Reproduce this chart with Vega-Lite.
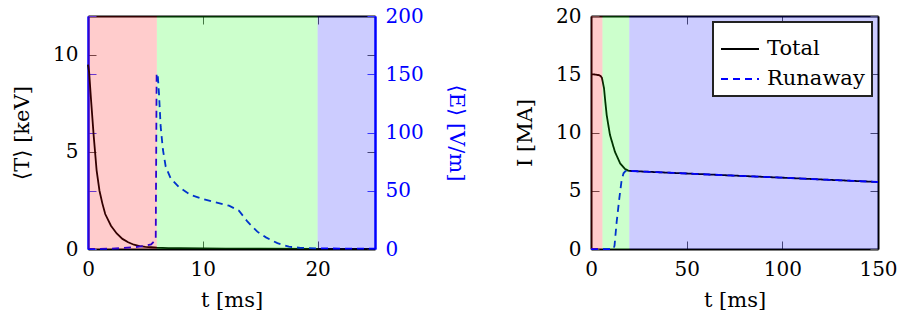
{
  "$schema": "https://vega.github.io/schema/vega-lite/v6.json",
  "padding": {"left": 11, "top": 6, "right": 0, "bottom": 0},
  "autosize": {"type": "pad"},
  "config": {
    "font": "DejaVu Serif",
    "view": {"stroke": null},
    "axis": {
      "labelFont": "DejaVu Serif", "titleFont": "DejaVu Serif",
      "labelFontSize": 20, "titleFontSize": 21, "titleFontWeight": "normal",
      "labelColor": "black", "titleColor": "black", "grid": false,
      "tickSize": -8, "tickWidth": 1, "tickColor": "#555",
      "domainWidth": 2, "domainColor": "black",
      "labelFlush": false, "labelOverlap": false, "labelPadding": 18
    },
    "legend": {"labelFont": "DejaVu Serif"}
  },
  "datasets": {
    "T": [
      {"t": 0, "T": 9.5}, {"t": 0.1, "T": 9.1}, {"t": 0.25, "T": 7.8}, {"t": 0.5, "T": 5.8},
      {"t": 0.75, "T": 4.05}, {"t": 1, "T": 3.0}, {"t": 1.25, "T": 2.35}, {"t": 1.5, "T": 1.8},
      {"t": 2, "T": 1.2}, {"t": 2.5, "T": 0.8}, {"t": 3, "T": 0.52}, {"t": 3.5, "T": 0.35},
      {"t": 4, "T": 0.22}, {"t": 4.5, "T": 0.15}, {"t": 5, "T": 0.11}, {"t": 5.5, "T": 0.09},
      {"t": 6, "T": 0.07}, {"t": 7, "T": 0.05}, {"t": 8, "T": 0.04}, {"t": 10, "T": 0.03},
      {"t": 12, "T": 0.02}, {"t": 15, "T": 0.015}, {"t": 20, "T": 0.01}, {"t": 25, "T": 0.01}
    ],
    "E": [
      {"t": 0, "E": 0}, {"t": 1, "E": 0.1}, {"t": 2, "E": 0.3}, {"t": 3, "E": 0.8},
      {"t": 4, "E": 1.5}, {"t": 5, "E": 2.8}, {"t": 5.5, "E": 4}, {"t": 5.9, "E": 8},
      {"t": 5.98, "E": 151}, {"t": 6.08, "E": 149}, {"t": 6.18, "E": 134}, {"t": 6.33, "E": 105},
      {"t": 6.53, "E": 85}, {"t": 6.77, "E": 70.6}, {"t": 7.2, "E": 60.7}, {"t": 7.93, "E": 53},
      {"t": 8.94, "E": 46.4}, {"t": 10.1, "E": 42.6}, {"t": 11.12, "E": 40}, {"t": 12.28, "E": 37.2},
      {"t": 13.15, "E": 32.9}, {"t": 13.9, "E": 23.4}, {"t": 14.75, "E": 14.9}, {"t": 15.5, "E": 10},
      {"t": 16.5, "E": 5}, {"t": 17.5, "E": 2}, {"t": 18.5, "E": 1}, {"t": 20, "E": 0.5},
      {"t": 22, "E": 0.4}, {"t": 25, "E": 0.4}
    ],
    "I": [
      {"t": 0, "I": 15.0, "s": "Total"}, {"t": 2, "I": 14.98, "s": "Total"}, {"t": 4, "I": 14.92, "s": "Total"},
      {"t": 5, "I": 14.85, "s": "Total"}, {"t": 5.7, "I": 14.7, "s": "Total"}, {"t": 6.2, "I": 14.3, "s": "Total"},
      {"t": 6.8, "I": 13.8, "s": "Total"}, {"t": 7.5, "I": 12.6, "s": "Total"}, {"t": 8.2, "I": 11.5, "s": "Total"},
      {"t": 9.9, "I": 9.8, "s": "Total"}, {"t": 12.5, "I": 8.35, "s": "Total"}, {"t": 15.2, "I": 7.36, "s": "Total"},
      {"t": 17.8, "I": 6.87, "s": "Total"}, {"t": 19.5, "I": 6.72, "s": "Total"}, {"t": 20.4, "I": 6.7, "s": "Total"},
      {"t": 50, "I": 6.48, "s": "Total"}, {"t": 100, "I": 6.12, "s": "Total"}, {"t": 150, "I": 5.75, "s": "Total"},
      {"t": 0, "I": 0, "s": "Runaway"}, {"t": 11.8, "I": 0, "s": "Runaway"}, {"t": 12.3, "I": 0.3, "s": "Runaway"},
      {"t": 13.4, "I": 2.3, "s": "Runaway"}, {"t": 14.8, "I": 4.35, "s": "Runaway"}, {"t": 16, "I": 5.9, "s": "Runaway"},
      {"t": 17, "I": 6.5, "s": "Runaway"}, {"t": 18, "I": 6.68, "s": "Runaway"}, {"t": 20.4, "I": 6.7, "s": "Runaway"},
      {"t": 50, "I": 6.48, "s": "Runaway"}, {"t": 100, "I": 6.12, "s": "Runaway"}, {"t": 150, "I": 5.75, "s": "Runaway"}
    ],
    "regL": [
      {"t0": 0, "t1": 6, "c": "#ff0000"}, {"t0": 6, "t1": 20, "c": "#00ff00"}, {"t0": 20, "t1": 25, "c": "#0000ff"}
    ],
    "regR": [
      {"t0": 0, "t1": 6, "c": "#ff0000"}, {"t0": 6, "t1": 20, "c": "#00ff00"}, {"t0": 20, "t1": 150, "c": "#0000ff"}
    ]
  },
  "spacing": 47,
  "hconcat": [
    {
      "width": 287, "height": 233,
      "layer": [
        {
          "data": {"name": "T"},
          "mark": {"type": "line", "color": "black", "strokeWidth": 1.8},
          "encoding": {
            "x": {"field": "t", "type": "quantitative", "scale": {"domain": [0, 25], "nice": false},
                  "axis": {"orient": "bottom", "values": [0, 10, 20], "title": "t [ms]", "titlePadding": 10}},
            "y": {"field": "T", "type": "quantitative", "scale": {"domain": [0, 12], "nice": false},
                  "axis": {"orient": "left", "values": [0, 5, 10], "title": "⟨T⟩ [keV]", "titlePadding": 20, "domainColor": "blue"}}
          }
        },
        {
          "data": {"name": "T"},
          "mark": {"type": "line", "opacity": 0},
          "encoding": {
            "x": {"field": "t", "type": "quantitative", "scale": {"domain": [0, 25], "nice": false},
                  "axis": {"orient": "top", "values": [0, 10, 20], "labels": false, "title": null}},
            "y": {"field": "T", "type": "quantitative", "scale": {"domain": [0, 12], "nice": false},
                  "axis": {"orient": "right", "values": [0, 5, 10], "labels": false, "title": null, "domainColor": "blue"}}
          }
        },
        {
          "data": {"name": "E"},
          "mark": {"type": "line", "color": "blue", "strokeWidth": 1.8, "strokeDash": [7, 5]},
          "encoding": {
            "x": {"field": "t", "type": "quantitative", "scale": {"domain": [0, 25], "nice": false}, "axis": null},
            "y": {"field": "E", "type": "quantitative", "scale": {"domain": [0, 200], "nice": false},
                  "axis": {"orient": "right", "values": [0, 50, 100, 150, 200], "title": "⟨E⟩ [V/m]", "titlePadding": 22,
                           "titleColor": "blue", "labelColor": "blue", "tickColor": "#4444ff", "domainColor": "blue"}}
          }
        },
        {
          "data": {"name": "E"},
          "mark": {"type": "line", "opacity": 0},
          "encoding": {
            "x": {"field": "t", "type": "quantitative", "scale": {"domain": [0, 25], "nice": false}, "axis": null},
            "y": {"field": "E", "type": "quantitative", "scale": {"domain": [0, 200], "nice": false},
                  "axis": {"orient": "left", "values": [0, 50, 100, 150, 200], "labels": false, "title": null,
                           "tickColor": "#4444ff", "domainColor": "blue"}}
          }
        },
        {
          "data": {"name": "regL"},
          "mark": {"type": "rect", "opacity": 0.2},
          "encoding": {
            "x": {"field": "t0", "type": "quantitative", "scale": {"domain": [0, 25], "nice": false}, "axis": null},
            "x2": {"field": "t1"},
            "fill": {"field": "c", "type": "nominal", "scale": null}
          }
        }
      ],
      "resolve": {"scale": {"y": "independent"}, "axis": {"x": "independent", "y": "independent"}}
    },
    {
      "width": 287, "height": 233,
      "layer": [
        {
          "data": {"name": "I"},
          "mark": {"type": "line", "strokeWidth": 1.8},
          "encoding": {
            "x": {"field": "t", "type": "quantitative", "scale": {"domain": [0, 150], "nice": false},
                  "axis": {"orient": "bottom", "values": [0, 50, 100, 150], "title": "t [ms]", "titlePadding": 10}},
            "y": {"field": "I", "type": "quantitative", "scale": {"domain": [0, 20], "nice": false},
                  "axis": {"orient": "left", "values": [0, 5, 10, 15, 20], "title": "I [MA]", "titlePadding": 20}},
            "color": {"field": "s", "type": "nominal", "scale": {"domain": ["Total", "Runaway"], "range": ["black", "blue"]},
                      "legend": {"title": null, "orient": "top-right", "offset": 6, "zindex": 1, "strokeColor": "#222",
                                 "fillColor": "white", "padding": 7, "labelFontSize": 21,
                                 "symbolType": "stroke", "symbolSize": 1444, "symbolStrokeWidth": 2, "labelOffset": 7, "rowPadding": 0,
                                 "encode": {"legend": {"update": {"strokeWidth": {"value": 2}}}}}},
            "strokeDash": {"field": "s", "type": "nominal", "scale": {"domain": ["Total", "Runaway"], "range": [[1, 0], [7, 5]]},
                      "legend": {"title": null, "orient": "top-right", "offset": 6, "zindex": 1, "strokeColor": "#222",
                                 "fillColor": "white", "padding": 7, "labelFontSize": 21,
                                 "symbolType": "stroke", "symbolSize": 1444, "symbolStrokeWidth": 2, "labelOffset": 7, "rowPadding": 0,
                                 "encode": {"legend": {"update": {"strokeWidth": {"value": 2}}}}}}
          }
        },
        {
          "data": {"name": "I"},
          "mark": {"type": "line", "opacity": 0},
          "encoding": {
            "x": {"field": "t", "type": "quantitative", "scale": {"domain": [0, 150], "nice": false},
                  "axis": {"orient": "top", "values": [0, 50, 100, 150], "labels": false, "title": null}},
            "y": {"field": "I", "type": "quantitative", "scale": {"domain": [0, 20], "nice": false},
                  "axis": {"orient": "right", "values": [0, 5, 10, 15, 20], "labels": false, "title": null}}
          }
        },
        {
          "data": {"name": "regR"},
          "mark": {"type": "rect", "opacity": 0.2},
          "encoding": {
            "x": {"field": "t0", "type": "quantitative", "scale": {"domain": [0, 150], "nice": false}, "axis": null},
            "x2": {"field": "t1"},
            "fill": {"field": "c", "type": "nominal", "scale": null}
          }
        }
      ],
      "resolve": {"axis": {"x": "independent", "y": "independent"}}
    }
  ],
  "resolve": {"scale": {"color": "independent", "strokeDash": "independent", "fill": "independent"}}
}
